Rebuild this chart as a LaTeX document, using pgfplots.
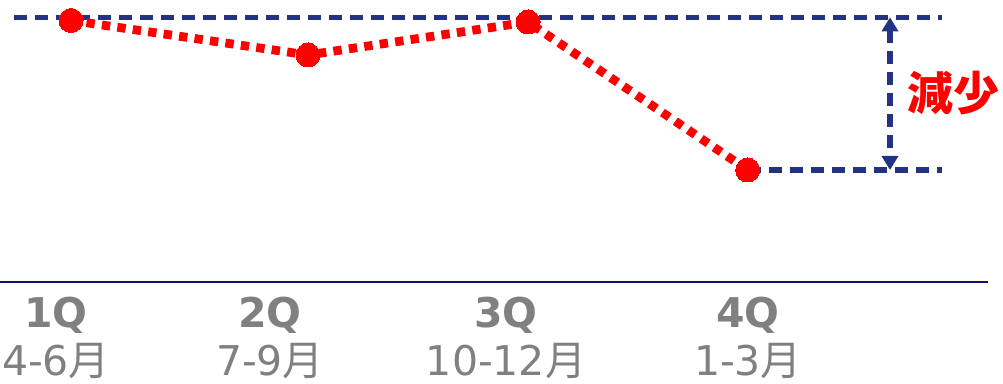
\documentclass[border=0pt]{standalone}
\usepackage{fontspec}
\setmainfont{DejaVu Sans}
\newfontfamily\cjk{Noto Sans CJK JP}
\usepackage{pgfplots}
\pgfplotsset{compat=1.18}
\usetikzlibrary{arrows.meta}
\definecolor{guideblue}{RGB}{35,50,130}
\definecolor{baseline}{RGB}{15,15,110}
\definecolor{labelgray}{RGB}{128,128,128}
\begin{document}
\begin{tikzpicture}
\useasboundingbox (0,-51pt) rectangle (501.5pt,141pt);
\begin{axis}[
  scale only axis, width=494pt, height=141pt,
  xmin=0, xmax=988, ymin=102, ymax=384,
  axis x line*=bottom, axis y line=none,
  x axis line style={draw=baseline, line width=1pt, -},
  xtick={56,270,506,748},
  xticklabels={{\textbf{1Q}\\4-6{\cjk 月}},{\textbf{2Q}\\7-9{\cjk 月}},{\textbf{3Q}\\10-12{\cjk 月}},{\textbf{4Q}\\1-3{\cjk 月}}},
  xticklabel style={align=center, text=labelgray, font=\fontsize{20.5}{24}\selectfont, anchor=north, yshift=-4pt},
  major tick length=0pt,
  clip=false,
]
% guide lines: quarter-1 level and quarter-4 level
\addplot[guideblue, line width=2.7pt, dash pattern=on 6.5pt off 4pt] coordinates {(14,366.7) (942,366.7)};
\addplot[guideblue, line width=2.7pt, dash pattern=on 6.5pt off 4pt] coordinates {(747.7,214) (942,214)};
\addplot[guideblue, line width=2.7pt, dash pattern=on 6.5pt off 4pt,
  {Triangle[width=8pt,length=7pt]}-{Triangle[width=8pt,length=7pt]}] coordinates {(890,366.7) (890,214)};
% quarterly series
\addplot[red, line width=4.4pt, dash pattern=on 4.2pt off 3.6pt,
  mark=*, mark size=6pt, mark options={solid, fill=red, draw=red, line width=0pt}]
  coordinates {(71,363.5) (308,329) (528,362) (747.7,214)};
\node[text=red, font=\cjk\bfseries\fontsize{23}{23}\selectfont] at (axis cs:953.5,291) {減少};
\end{axis}
\end{tikzpicture}
\end{document}
